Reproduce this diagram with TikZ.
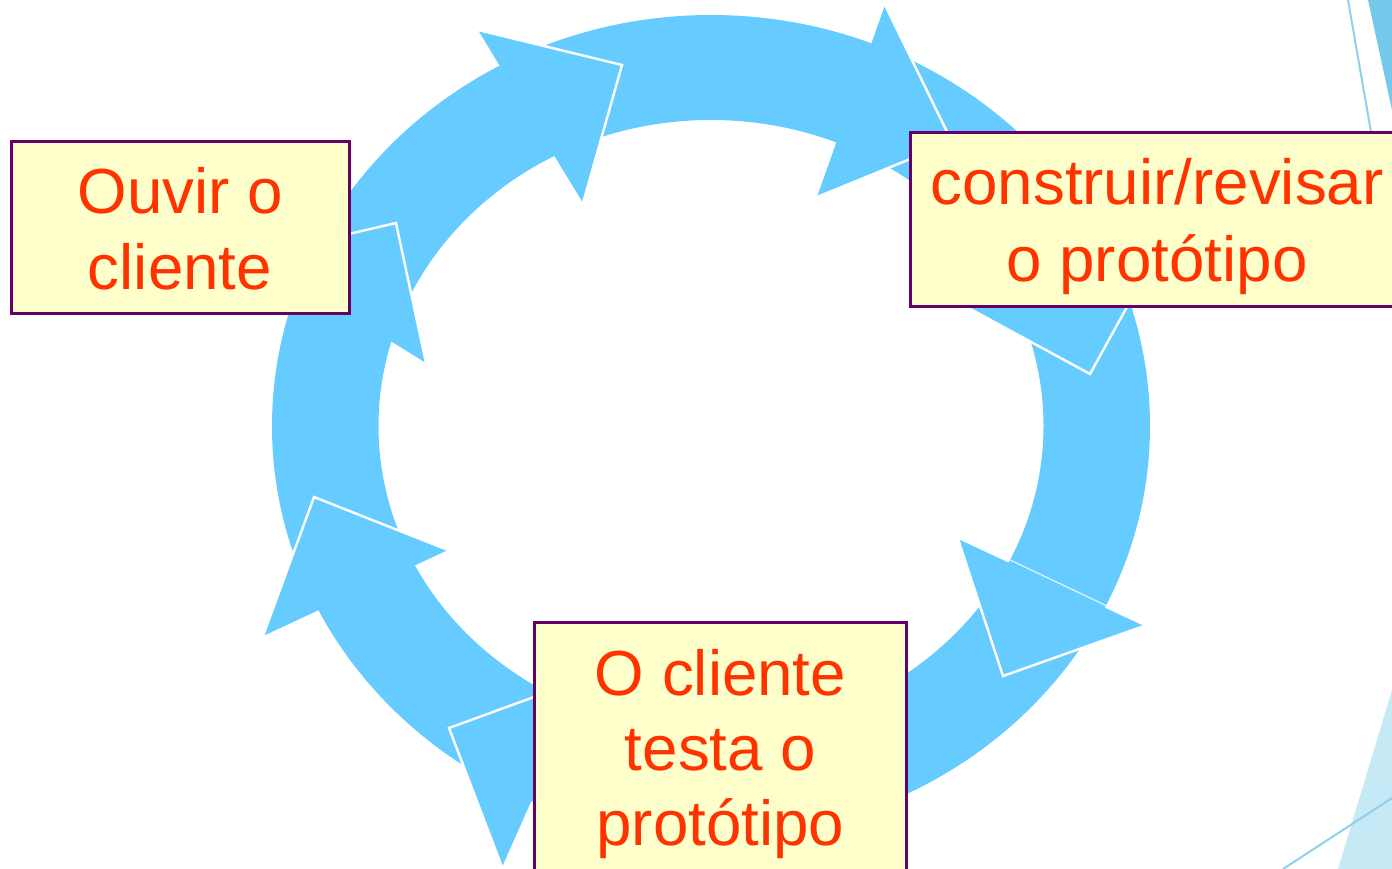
\documentclass[tikz,border=0pt]{standalone}
\usepackage{fontspec}
\setmainfont{Liberation Sans}
\definecolor{ringc}{HTML}{66CCFF}
\definecolor{boxfill}{HTML}{FFFFCC}
\definecolor{boxdraw}{HTML}{660066}
\definecolor{textc}{HTML}{FF3300}
\definecolor{decoline}{HTML}{8FD0EA}
\definecolor{decodark}{HTML}{74C8EA}
\definecolor{decolight}{HTML}{C5EAF6}
\tikzset{
  boxstyle/.style={draw=boxdraw, fill=boxfill, line width=3pt, inner sep=0pt},
  lbl/.style={text=textc, font=\fontsize{63.7}{75}\selectfont, inner sep=0pt, anchor=base},
  headedge/.style={draw=white, line width=2.4pt, line join=miter},
  decostroke/.style={draw=decoline, line width=2pt},
}
\begin{document}
\begin{tikzpicture}[x=1pt,y=-1pt]
\useasboundingbox (0,0) rectangle (1392,869);
\clip (0,0) rectangle (1392,869);
% background decorations at the right edge
\coordinate (dt1) at (1368,0);
\coordinate (dt2) at (1392,110);
\coordinate (dt3) at (1392,0);
\coordinate (dl1) at (1348,0);
\coordinate (dl2) at (1371,132);
\coordinate (db1) at (1392,690);
\coordinate (db2) at (1338,869);
\coordinate (db3) at (1392,869);
\coordinate (dm1) at (1283,869);
\coordinate (dm2) at (1392,798);
\fill[decodark] (dt1) -- (dt2) -- (dt3) -- cycle;
\draw[decostroke] (dl1) -- (dl2);
\fill[decolight] (db1) -- (db2) -- (db3) -- cycle;
\draw[decostroke] (dm1) -- (dm2);
% ring of arrow bodies
\coordinate (ctr) at (711,426);
\fill[ringc, even odd rule] (ctr) ellipse[x radius=439pt, y radius=411pt]
  (ctr) ellipse[x radius=332.5pt, y radius=306pt];
% arrow heads: corner / tip / corner
\coordinate (A1) at (478,30);   \coordinate (At) at (622,65);   \coordinate (A2) at (583,203);
\coordinate (B1) at (885,5);    \coordinate (Bt) at (952,142);  \coordinate (B2) at (817,197);
\coordinate (C1) at (1160,247); \coordinate (Ct) at (1090,374); \coordinate (C2) at (963,305);
\coordinate (D1) at (1144,626); \coordinate (Dt) at (1003,676); \coordinate (D2) at (958,539);
\coordinate (H1) at (871,860);  \coordinate (Ht) at (740,797);  \coordinate (H2) at (808,668);
\coordinate (E1) at (586,678);  \coordinate (Et) at (449,728);  \coordinate (E2) at (502,867);
\coordinate (G1) at (448,550);  \coordinate (Gt) at (314,497);  \coordinate (G2) at (263,636);
\coordinate (F1) at (254,256);  \coordinate (Ft) at (396,223);  \coordinate (F2) at (426,363);
\foreach \p in {A,B,C,D,H,E,G,F}{
  \fill[ringc] (\p1) -- (\p t) -- (\p2) -- cycle;
  \draw[headedge] (\p1) -- (\p t) -- (\p2);
}
\coordinate (dbase1) at (1008,559);
\coordinate (dbase2) at (1107,606);
\draw[white, line width=1.2pt, opacity=0.8] (dbase1) -- (dbase2);
% boxes
\node[boxstyle, minimum width=338pt, minimum height=171pt] (box1) at (180,227.5) {};
\node[boxstyle, minimum width=494pt, minimum height=173pt] (box2) at (1157,219.5) {};
\node[boxstyle, minimum width=372pt, minimum height=258pt] (box3) at (720.2,751) {};
% labels
\node[lbl] (t1a) at (180.5,213.3) {Ouvir o};
\node[lbl] (t1b) at (180,289.3) {cliente};
\node[lbl] (t2a) at (1157,205) {construir/revisar};
\node[lbl] (t2b) at (1157,281) {o protótipo};
\node[lbl] (t3a) at (720.5,695) {O cliente};
\node[lbl] (t3b) at (720.5,770) {testa o};
\node[lbl] (t3c) at (720.5,845) {protótipo};
\end{tikzpicture}
\end{document}
